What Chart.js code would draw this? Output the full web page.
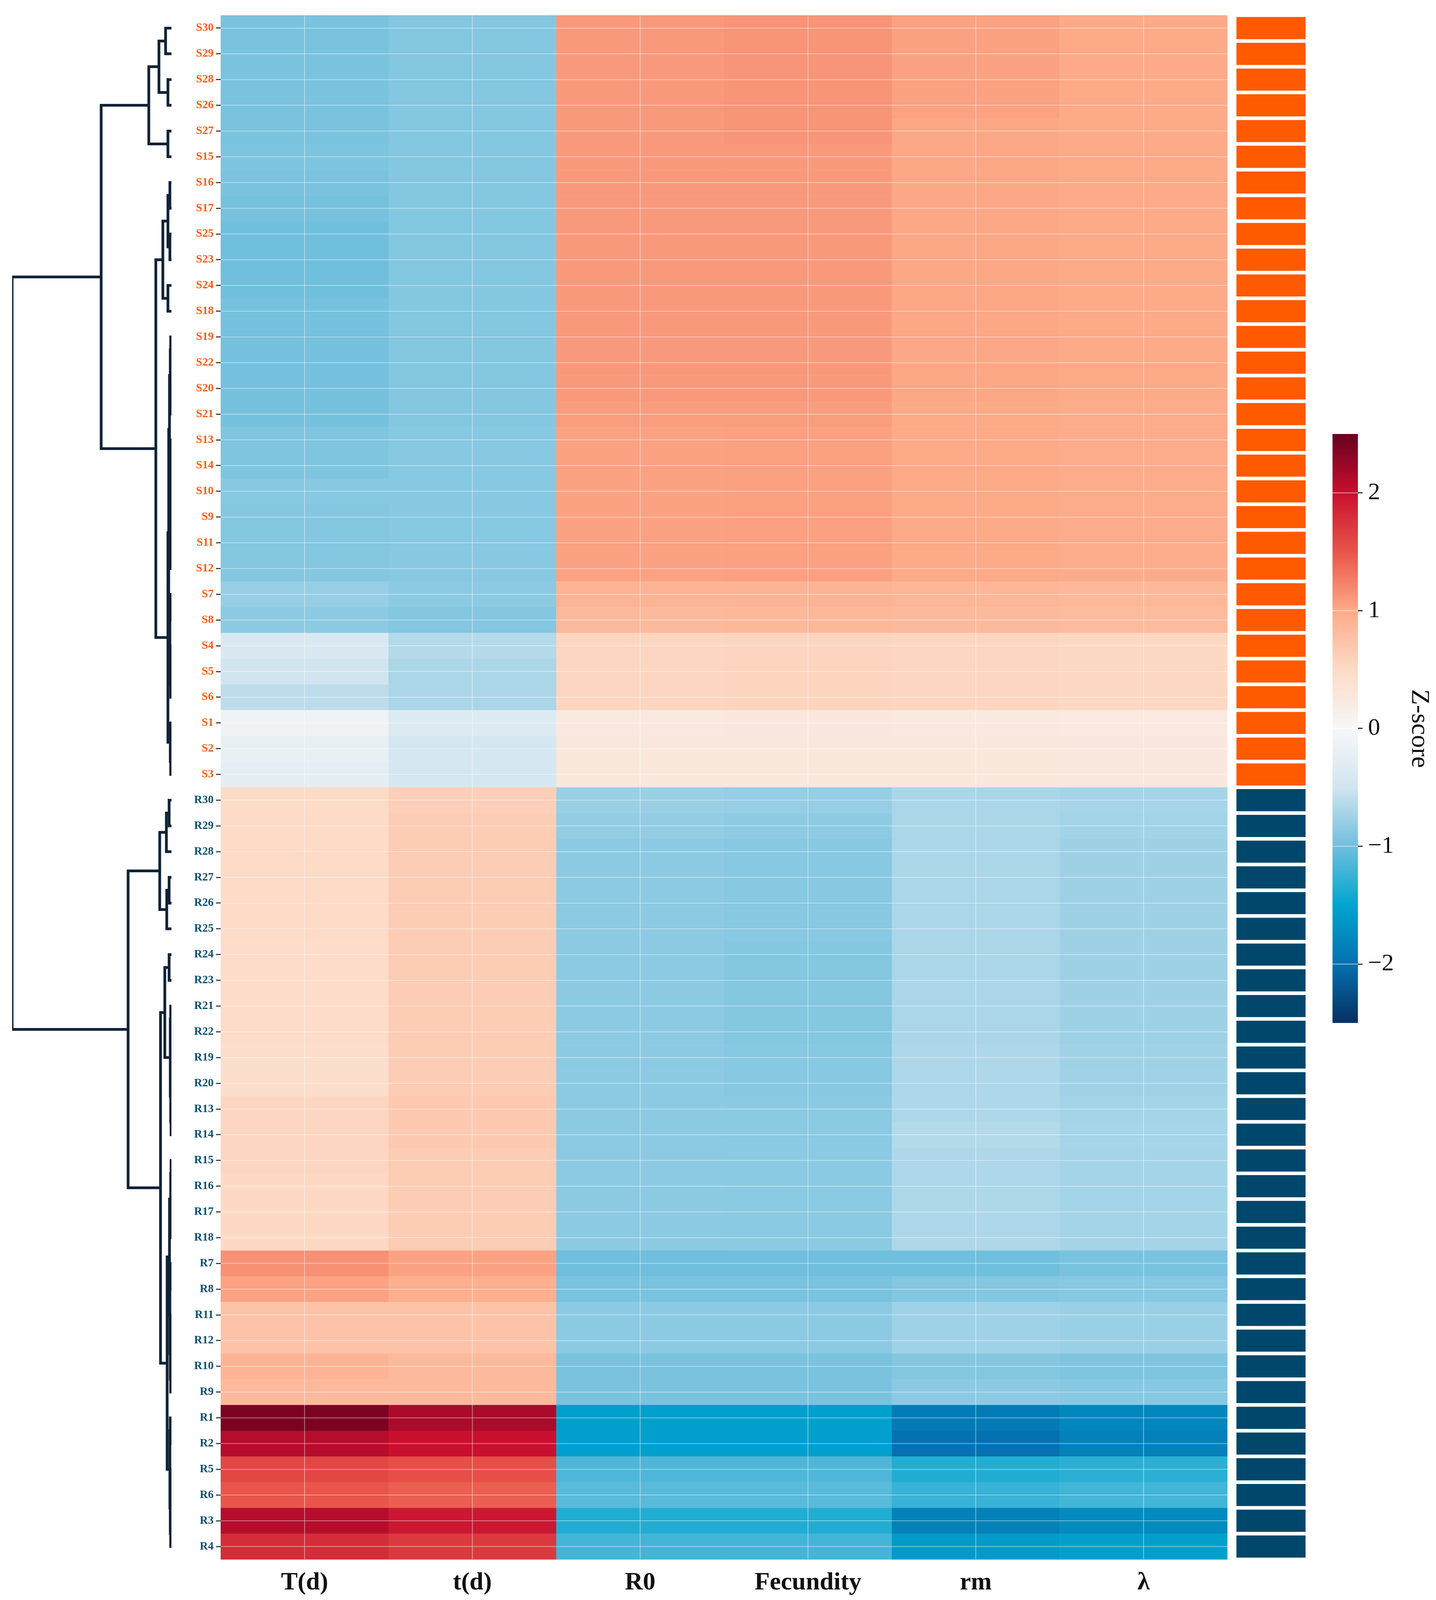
<!DOCTYPE html>
<html>
<head>
<meta charset="utf-8">
<script src="https://cdn.jsdelivr.net/npm/chart.js@4.4.1/dist/chart.umd.min.js"></script>
<style>
  body { margin: 0; background: #fff; }
  .box { position: absolute; }
</style>
</head>
<body>
<div class="box" id="dendBox" style="left:0;top:0;width:460px;height:4120px"><canvas id="dend"></canvas></div>
<div class="box" id="heatBox" style="left:0;top:0;width:3143px;height:4120px"><canvas id="heat"></canvas></div>
<div class="box" id="annoBox" style="left:3160px;top:0;width:195px;height:4120px"><canvas id="anno"></canvas></div>
<div class="box" id="barBox" style="left:3380px;top:1050px;width:297px;height:1620px"><canvas id="cbar"></canvas></div>
<script>
const columns = ['T(d)', 't(d)', 'R0', 'Fecundity', 'rm', 'λ'];
const rows = ['S30','S29','S28','S26','S27','S15','S16','S17','S25','S23','S24','S18','S19','S22','S20','S21','S13','S14','S10','S9','S11','S12','S7','S8','S4','S5','S6','S1','S2','S3',
  'R30','R29','R28','R27','R26','R25','R24','R23','R21','R22','R19','R20','R13','R14','R15','R16','R17','R18','R7','R8','R11','R12','R10','R9','R1','R2','R5','R6','R3','R4'];
const groups = rows.map(r => r[0]);

// z-scores per column, same order as rows
const T_d = [-0.95,-0.95,-0.95,-0.95,-0.95,-0.93,-0.95,-0.97,-1.0,-1.0,-1.0,-0.97,-0.97,-0.97,-0.97,-0.97,-0.92,-0.92,-0.88,-0.9,-0.9,-0.9,-0.8,-0.85,-0.4,-0.5,-0.6,-0.1,-0.2,-0.25,
  0.5,0.5,0.5,0.5,0.5,0.5,0.48,0.48,0.48,0.48,0.45,0.45,0.55,0.55,0.55,0.52,0.52,0.52,1.15,1.05,0.75,0.75,0.9,0.85,2.4,2.1,1.6,1.5,2.1,1.8];
const t_d = [-0.9,-0.9,-0.9,-0.9,-0.9,-0.9,-0.9,-0.9,-0.9,-0.9,-0.9,-0.9,-0.9,-0.9,-0.9,-0.9,-0.88,-0.88,-0.88,-0.88,-0.88,-0.88,-0.85,-0.9,-0.65,-0.7,-0.7,-0.35,-0.45,-0.45,
  0.62,0.65,0.65,0.65,0.65,0.65,0.65,0.65,0.65,0.65,0.65,0.65,0.68,0.68,0.65,0.65,0.65,0.65,1.05,0.95,0.75,0.75,0.85,0.85,2.15,2.0,1.55,1.45,1.95,1.7];
const R0 = [1.1,1.1,1.1,1.1,1.1,1.1,1.1,1.1,1.1,1.1,1.1,1.1,1.1,1.1,1.1,1.08,1.05,1.05,1.05,1.05,1.05,1.05,0.9,0.85,0.55,0.55,0.55,0.25,0.27,0.27,
  -0.78,-0.82,-0.85,-0.85,-0.85,-0.85,-0.85,-0.85,-0.85,-0.85,-0.85,-0.85,-0.85,-0.85,-0.85,-0.85,-0.85,-0.85,-1.0,-0.95,-0.85,-0.85,-0.95,-0.95,-1.55,-1.55,-1.15,-1.1,-1.35,-1.2];
const Fecundity = [1.13,1.13,1.13,1.13,1.13,1.1,1.1,1.1,1.1,1.1,1.1,1.1,1.1,1.1,1.1,1.08,1.06,1.06,1.06,1.06,1.06,1.06,0.9,0.86,0.56,0.56,0.56,0.26,0.27,0.27,
  -0.8,-0.84,-0.88,-0.88,-0.88,-0.88,-0.9,-0.9,-0.9,-0.9,-0.88,-0.88,-0.86,-0.86,-0.86,-0.86,-0.86,-0.86,-1.0,-0.95,-0.85,-0.85,-0.95,-0.95,-1.55,-1.55,-1.15,-1.1,-1.35,-1.2];
const rm = [1.05,1.05,1.05,1.05,1.02,1.02,1.02,1.02,1.02,1.02,1.02,1.02,1.02,1.02,1.02,1.0,1.0,1.0,1.0,1.0,1.0,1.0,0.88,0.85,0.55,0.55,0.55,0.25,0.27,0.27,
  -0.7,-0.7,-0.7,-0.7,-0.7,-0.7,-0.7,-0.7,-0.7,-0.7,-0.68,-0.68,-0.68,-0.65,-0.68,-0.68,-0.68,-0.68,-1.0,-0.9,-0.75,-0.75,-0.9,-0.85,-1.9,-2.0,-1.35,-1.25,-1.85,-1.6];
const lambda = [1.0,1.0,1.0,1.0,1.0,1.0,1.0,1.0,1.0,1.0,1.0,1.0,1.0,1.0,1.0,0.98,0.98,0.98,0.98,0.98,0.98,0.98,0.86,0.83,0.53,0.53,0.53,0.24,0.26,0.26,
  -0.72,-0.74,-0.76,-0.76,-0.76,-0.76,-0.76,-0.76,-0.76,-0.76,-0.75,-0.75,-0.73,-0.72,-0.73,-0.73,-0.73,-0.73,-0.95,-0.88,-0.78,-0.78,-0.92,-0.88,-1.8,-1.85,-1.3,-1.2,-1.75,-1.55];
const values = [T_d, t_d, R0, Fecundity, rm, lambda];
const zTicks = [-2, -1, 0, 1, 2];

// row dendrogram: [height, left, right]
const dendro = [408,
  [180,
    [58, [32, [15,'S30','S29'], [9,'S28','S26']], [9,'S27','S15']],
    [40,
      [22, [9, [4,'S16','S17'], [4,'S25','S23']], [9,'S24','S18']],
      [9,
        [7,
          [5, [3, [2,'S19','S22'], [2,'S20','S21']], [3, [2,'S13','S14'], [2,'S10', [1,'S9', [1,'S11','S12']]]]],
          [4, [2,'S7','S8'], [3,'S4', [2,'S5','S6']]]],
        [3,'S1', [2,'S2','S3']]]]],
  [111,
    [30, [13, [6,'R30','R29'], 'R28'], [12, [6,'R27','R26'], 'R25']],
    [28,
      [17, [6,'R24','R23'], [3, [2,'R21','R22'], [2, [1,'R19','R20'], [1,'R13','R14']]]],
      [11,
        [5, [2, [1,'R15','R16'], [1,'R17','R18']], [4, [2,'R7','R8'], [3, [2,'R11','R12'], [2,'R10','R9']]]],
        [4, [3,'R1','R2'], [3, [2,'R5','R6'], [2,'R3','R4']]]]]]];

const stops = [[-2.5,[5,48,97]],[-2,[5,113,176]],[-1.5,[0,165,207]],[-1,[111,191,221]],[-0.5,[209,229,240]],[0,[247,247,247]],
  [0.5,[253,219,199]],[1,[253,170,136]],[1.5,[233,85,74]],[2,[200,16,46]],[2.5,[103,0,31]]];
function zColor(v) {
  v = Math.max(-2.5, Math.min(2.5, v));
  for (let i = 0; i < stops.length - 1; i++) {
    const [a, ca] = stops[i], [b, cb] = stops[i + 1];
    if (v <= b) {
      const f = (v - a) / (b - a);
      const c = ca.map((x, k) => Math.round(x + (cb[k] - x) * f));
      return `rgb(${c[0]},${c[1]},${c[2]})`;
    }
  }
}

Chart.defaults.animation = false;
Chart.defaults.responsive = true;
Chart.defaults.maintainAspectRatio = false;
Chart.defaults.plugins.legend.display = false;
Chart.defaults.plugins.tooltip.enabled = false;
Chart.defaults.font.family = "'Liberation Serif', serif";

// heatmap
const heatPlugin = {
  id: 'heat',
  beforeDatasetsDraw(chart) {
    const { ctx, scales: { x, y } } = chart;
    const w = x.width / columns.length, h = y.height / rows.length;
    values.forEach((col, c) => col.forEach((v, r) => {
      ctx.fillStyle = zColor(v);
      ctx.fillRect(x.getPixelForValue(c) - w / 2, y.getPixelForValue(r) - h / 2, w + 0.5, h + 0.5);
    }));
    ctx.strokeStyle = 'rgba(255,255,255,0.45)';
    ctx.lineWidth = 2;
    columns.forEach((_, c) => {
      const px = x.getPixelForValue(c);
      ctx.beginPath(); ctx.moveTo(px, y.top); ctx.lineTo(px, y.bottom); ctx.stroke();
    });
    rows.forEach((_, r) => {
      const py = y.getPixelForValue(r);
      ctx.beginPath(); ctx.moveTo(x.left, py); ctx.lineTo(x.right, py); ctx.stroke();
    });
  }
};
new Chart(document.getElementById('heat'), {
  type: 'scatter',
  data: { datasets: [{ data: [] }] },
  options: {
    layout: { padding: { top: 39, left: 0, right: 0, bottom: 0 } },
    scales: {
      x: { type: 'category', labels: columns, offset: true,
        afterFit: s => { s.height = 128; },
        grid: { display: false }, border: { display: false },
        ticks: { color: '#111', font: { size: 64, weight: 'bold' }, padding: 14 } },
      y: { type: 'category', labels: rows, offset: true,
        afterFit: s => { s.width = 565; },
        grid: { offset: false, drawOnChartArea: false, tickLength: 12, color: '#444', lineWidth: 3 },
        border: { display: false },
        ticks: { font: { size: 29, weight: 'bold' }, padding: 6, autoSkip: false,
          color: c => groups[c.index] === 'S' ? '#ff5a0a' : '#0b4f72' } }
    }
  },
  plugins: [heatPlugin]
});

// dendrogram segments built from the tree
const segs = [];
function walk(node) {
  if (typeof node === 'string') return { y: rows.indexOf(node), h: 0 };
  const [h, l, r] = node;
  const a = walk(l), b = walk(r);
  segs.push([{ x: a.h, y: a.y }, { x: h, y: a.y }, { x: h, y: b.y }, { x: b.h, y: b.y }]);
  return { y: (a.y + b.y) / 2, h: h };
}
walk(dendro);
new Chart(document.getElementById('dend'), {
  type: 'scatter',
  data: { datasets: segs.map(s => ({ data: s, showLine: true, borderColor: '#0f2236', borderWidth: 7, pointRadius: 0, tension: 0 })) },
  options: {
    layout: { padding: { top: 39, bottom: 128, left: 31, right: 21 } },
    scales: {
      x: { type: 'linear', min: 0, max: 408, reverse: true, display: false },
      y: { type: 'linear', min: -0.5, max: rows.length - 0.5, reverse: true, display: false }
    }
  }
});

// group annotation strip
new Chart(document.getElementById('anno'), {
  type: 'bar',
  data: { labels: rows, datasets: [{ data: rows.map(() => 1),
    backgroundColor: groups.map(g => g === 'S' ? '#ff5a00' : '#00476b'),
    barPercentage: 0.86, categoryPercentage: 1 }] },
  options: {
    indexAxis: 'y',
    layout: { padding: { top: 39, bottom: 128, left: 6, right: 12 } },
    scales: {
      x: { min: 0, max: 1, display: false },
      y: { display: false }
    }
  }
});

// colour bar
const gradPlugin = {
  id: 'grad',
  beforeDatasetsDraw(chart) {
    const { ctx, chartArea: a, scales: { y } } = chart;
    const g = ctx.createLinearGradient(0, y.getPixelForValue(-2.5), 0, y.getPixelForValue(2.5));
    stops.forEach(([v, c]) => g.addColorStop((v + 2.5) / 5, `rgb(${c[0]},${c[1]},${c[2]})`));
    ctx.fillStyle = g;
    ctx.fillRect(a.left, a.top, a.right - a.left, a.bottom - a.top);
    ctx.strokeStyle = 'rgba(255,255,255,0.6)';
    ctx.lineWidth = 2;
    zTicks.forEach(t => {
      const py = y.getPixelForValue(t);
      ctx.beginPath(); ctx.moveTo(a.left, py); ctx.lineTo(a.right, py); ctx.stroke();
    });
  }
};
new Chart(document.getElementById('cbar'), {
  type: 'scatter',
  data: { datasets: [{ data: [] }] },
  options: {
    layout: { padding: { top: 61, bottom: 12, left: 32, right: 0 } },
    scales: {
      x: { type: 'linear', display: false, min: 0, max: 1 },
      y: { type: 'linear', position: 'right', min: -2.5, max: 2.5,
        afterFit: s => { s.width = 200; },
        afterBuildTicks: s => { s.ticks = zTicks.map(v => ({ value: v })); },
        grid: { drawOnChartArea: false, tickLength: 12, color: '#333', lineWidth: 3 },
        border: { display: false },
        ticks: { color: '#111', font: { size: 62 }, padding: 14,
          callback: v => (v < 0 ? '\u2212' : '') + Math.abs(v) },
        title: { display: true, text: 'Z-score', color: '#111', font: { size: 66 }, padding: 4 } }
    }
  },
  plugins: [gradPlugin]
});
</script>
</body>
</html>
